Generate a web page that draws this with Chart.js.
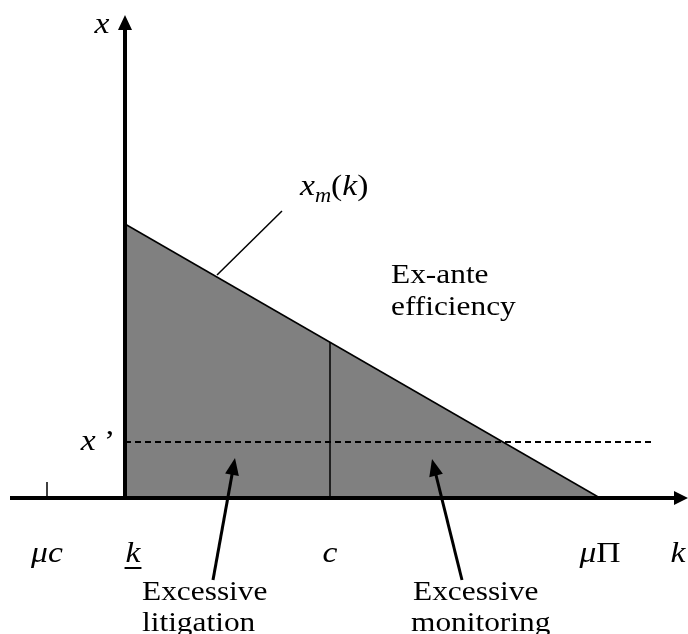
<!DOCTYPE html>
<html>
<head>
<meta charset="utf-8">
<script src="https://cdn.jsdelivr.net/npm/chart.js@4"></script>
<style>
  html, body { margin: 0; padding: 0; background: #fff; }
  #wrap { width: 688px; height: 634px; }
</style>
</head>
<body>
<div id="wrap"><canvas id="diagram" width="688" height="634"></canvas></div>
<script>
// values (k along the horizontal, x up the vertical)
const kTicks = [-1.56, 0, 4.1, 9.5];
const kTickLabels = ['μc', 'k', 'c', 'μΠ'];
const curveK = [0, 9.5];          // x_m(k) runs from k_ to μΠ
const curveX = [5.48, 0];
const cLineX = [0, 3.12];         // vertical at c up to the curve
const xPrime = 1.12;
const dashEndK = 10.54;
const kAxisRange = [-2.3, 11.26];
const xAxisTop = 9.66;

const SERIF = '"Liberation Serif", "Times New Roman", serif';
const STRETCH = 1.12;

function pts(xs, ys) {
    return xs.map((v, i) => ({ x: v, y: ys[i] }));
}

function drawText(ctx, runs, x, y, align) {
    // runs: [text, font, dy]
    ctx.save();
    let total = 0;
    runs.forEach(r => { ctx.font = r[1]; total += ctx.measureText(r[0]).width; });
    let start = x;
    if (align === 'center') start = x - total * STRETCH / 2;
    ctx.translate(start, y);
    ctx.scale(STRETCH, 1);
    let cx = 0;
    runs.forEach(r => {
        ctx.font = r[1];
        ctx.fillText(r[0], cx, r[2] || 0);
        cx += ctx.measureText(r[0]).width;
    });
    ctx.restore();
    return total * STRETCH;
}

function arrow(ctx, x1, y1, x2, y2, width, len, half) {
    const a = Math.atan2(y2 - y1, x2 - x1);
    ctx.save();
    ctx.lineWidth = width;
    ctx.beginPath();
    ctx.moveTo(x1, y1);
    ctx.lineTo(x2 - Math.cos(a) * len * 0.8, y2 - Math.sin(a) * len * 0.8);
    ctx.stroke();
    ctx.beginPath();
    ctx.moveTo(x2, y2);
    ctx.lineTo(x2 - Math.cos(a) * len - Math.sin(a) * half, y2 - Math.sin(a) * len + Math.cos(a) * half);
    ctx.lineTo(x2 - Math.cos(a) * len + Math.sin(a) * half, y2 - Math.sin(a) * len - Math.cos(a) * half);
    ctx.closePath();
    ctx.fill();
    ctx.restore();
}

const labelsPlugin = {
    id: 'diagramLabels',
    afterDatasetsDraw(chart) {
        const ctx = chart.ctx;
        const xs = chart.scales.x, ys = chart.scales.y;
        const px = v => xs.getPixelForValue(v);
        const py = v => ys.getPixelForValue(v);
        ctx.save();
        ctx.fillStyle = '#000';
        ctx.strokeStyle = '#000';
        ctx.textBaseline = 'alphabetic';

        // axis arrowheads
        arrow(ctx, px(0), py(0), px(0), py(xAxisTop), 0, 15, 7);
        arrow(ctx, px(0), py(0), px(kAxisRange[1]), py(0), 0, 14, 7);

        const it = 'italic 30px ' + SERIF;
        const rm = '30px ' + SERIF;
        const txt = '28px ' + SERIF;

        // tick labels under the k axis
        const base = py(0) + 64;
        drawText(ctx, [['μ', it], ['c', it]], px(kTicks[0]), base, 'center');
        const w = drawText(ctx, [['k', it]], px(kTicks[1]) + 8, base, 'center');
        ctx.lineWidth = 2;
        ctx.beginPath();
        ctx.moveTo(px(kTicks[1]) + 8 - w / 2 - 1, base + 6);
        ctx.lineTo(px(kTicks[1]) + 8 + w / 2 + 1, base + 6);
        ctx.stroke();
        drawText(ctx, [['c', it]], px(kTicks[2]), base, 'center');
        drawText(ctx, [['μ', it], ['Π', rm]], px(kTicks[3]), base, 'center');
        drawText(ctx, [['k', it]], 678, base, 'center');

        // vertical axis labels
        drawText(ctx, [['x', it]], 102, 33, 'center');
        drawText(ctx, [['x', it], [' ’', rm]], 98, py(xPrime) + 8, 'center');

        // curve label with leader line
        drawText(ctx, [['x', it], ['m', 'italic 20px ' + SERIF, 7], ['(', rm], ['k', it], [')', rm]], 300, 195, 'left');
        ctx.lineWidth = 1.5;
        ctx.beginPath();
        ctx.moveTo(217, 275);
        ctx.lineTo(282, 211);
        ctx.stroke();

        // region notes
        drawText(ctx, [['Ex-ante', txt]], 391, 283, 'left');
        drawText(ctx, [['efficiency', txt]], 391, 315, 'left');
        drawText(ctx, [['Excessive', txt]], 142, 600, 'left');
        drawText(ctx, [['litigation', txt]], 142, 631, 'left');
        drawText(ctx, [['Excessive', txt]], 413, 600, 'left');
        drawText(ctx, [['monitoring', txt]], 411, 631, 'left');

        arrow(ctx, 213, 580, 235, 458, 3, 17, 7);
        arrow(ctx, 462, 580, 432, 459, 3, 17, 7);
        ctx.restore();
    }
};

function build() {
    new Chart(document.getElementById('diagram').getContext('2d'), {
        type: 'scatter',
        data: {
            datasets: [
                {
                    label: 'x_m(k)',
                    data: pts(curveK, curveX),
                    showLine: true,
                    borderColor: '#000',
                    borderWidth: 1.5,
                    backgroundColor: '#808080',
                    fill: 'origin',
                    pointRadius: 0,
                    order: 5
                },
                {
                    label: 'c',
                    data: pts([kTicks[2], kTicks[2]], cLineX),
                    showLine: true,
                    borderColor: '#000',
                    borderWidth: 1.5,
                    pointRadius: 0,
                    order: 4
                },
                {
                    label: "x'",
                    data: pts([0, dashEndK], [xPrime, xPrime]),
                    showLine: true,
                    borderColor: '#000',
                    borderWidth: 2,
                    borderDash: [6, 4],
                    pointRadius: 0,
                    order: 3
                },
                {
                    label: 'μc tick',
                    data: pts([kTicks[0], kTicks[0]], [0, 0.32]),
                    showLine: true,
                    borderColor: '#000',
                    borderWidth: 1.5,
                    pointRadius: 0,
                    order: 2
                },
                {
                    label: 'k axis',
                    data: pts([kAxisRange[0], kAxisRange[1] - 0.2], [0, 0]),
                    showLine: true,
                    borderColor: '#000',
                    borderWidth: 4,
                    pointRadius: 0,
                    order: 1
                },
                {
                    label: 'x axis',
                    data: pts([0, 0], [0, xAxisTop - 0.2]),
                    showLine: true,
                    borderColor: '#000',
                    borderWidth: 4,
                    pointRadius: 0,
                    order: 0
                }
            ]
        },
        options: {
            responsive: false,
            animation: false,
            layout: { padding: 0 },
            plugins: {
                legend: { display: false },
                tooltip: { enabled: false }
            },
            scales: {
                x: { type: 'linear', display: false, min: -2.5, max: 11.26 },
                y: { type: 'linear', display: false, min: -2.72, max: 9.96 }
            },
            elements: { line: { tension: 0 } }
        },
        plugins: [labelsPlugin]
    });
}

Promise.all([
    document.fonts.load('italic 30px "Liberation Serif"'),
    document.fonts.load('30px "Liberation Serif"')
]).then(build, build);
</script>
</body>
</html>
